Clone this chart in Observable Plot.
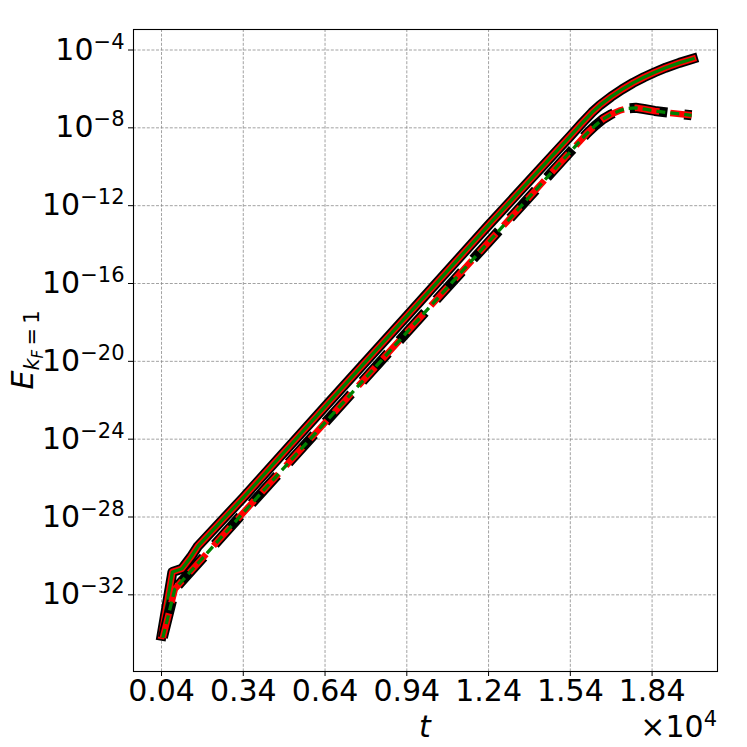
<!DOCTYPE html>
<html><head><meta charset="utf-8">
<script src="https://cdn.jsdelivr.net/npm/d3@7"></script>
<script src="https://cdn.jsdelivr.net/npm/@observablehq/plot@0.6"></script>
<style>html,body{margin:0;padding:0;background:#fff} svg{display:block}</style>
</head><body><div id="chart"></div>
<script>
// t in units of 10^4
const tUpper = [0.04, 0.08, 0.115, 0.148, 0.174, 0.34, 0.64, 0.94, 1.24, 1.54, 1.58, 1.62, 1.65, 1.69, 1.73, 1.77, 1.81, 1.85, 1.89, 1.94, 1.99];
const eUpper = [7.9e-35, 1.5e-31, 2.2e-31, 8.9e-31, 3.2e-30, 1.0e-27, 4.7e-23, 2.1e-18, 1.0e-13, 3.8e-9, 1.58e-8, 6.3e-8, 1.51e-7, 4.0e-7, 9.5e-7, 2.04e-6, 3.98e-6, 7.2e-6, 1.23e-5, 2.19e-5, 3.55e-5];
const tLower = [0.045, 0.089, 0.34, 0.64, 0.94, 1.24, 1.54, 1.60, 1.63, 1.66, 1.69, 1.72, 1.75, 1.78, 1.81, 1.85, 1.90, 1.95, 1.985];
const eLower = [6.3e-35, 2.0e-32, 1.66e-28, 7.1e-24, 3.1e-19, 1.35e-14, 5.9e-10, 5.0e-9, 1.26e-8, 2.8e-8, 5.0e-8, 7.6e-8, 1.0e-7, 1.07e-7, 9.3e-8, 7.4e-8, 6.0e-8, 5.0e-8, 4.4e-8];
const xTicks = [0.04, 0.34, 0.64, 0.94, 1.24, 1.54, 1.84];
const xTickLabels = ["0.04", "0.34", "0.64", "0.94", "1.24", "1.54", "1.84"];
const yTicks = [1e-32, 1e-28, 1e-24, 1e-20, 1e-16, 1e-12, 1e-8, 1e-4];
const yTickExponents = ["\u221232", "\u221228", "\u221224", "\u221220", "\u221216", "\u221212", "\u22128", "\u22124"];

const upper = tUpper.map((t, i) => ({t, E: eUpper[i]}));
const lower = tLower.map((t, i) => ({t, E: eLower[i]}));

const gridStyle = {stroke: "#8a8a8a", strokeOpacity: 1, strokeWidth: 0.8, strokeDasharray: "3,1.6"};
const lineBase = {x: "t", y: "E", strokeLinejoin: "round"};

const chart = Plot.plot({
  width: 747, height: 747,
  marginLeft: 133, marginRight: 30, marginTop: 29, marginBottom: 76,
  style: {fontFamily: "DejaVu Sans", fontSize: "30px", color: "#000", background: "#fff"},
  x: {domain: [-0.0628, 2.080]},
  y: {type: "log", domain: [Math.pow(10, -35.94), Math.pow(10, -2.946)]},
  marks: [
    Plot.gridX(xTicks, gridStyle),
    Plot.gridY(yTicks, gridStyle),
    Plot.axisX(xTicks, {tickSize: 5, tickPadding: 3, label: null, fontSize: 30,
      tickFormat: d => xTickLabels[xTicks.indexOf(d)]}),
    Plot.axisY(yTicks, {tickSize: 5, tickPadding: 4, label: null, fontSize: 30,
      tickFormat: d => yTickExponents[yTicks.indexOf(d)]}),
    Plot.line(upper, {...lineBase, stroke: "black", strokeWidth: 10, strokeLinecap: "square"}),
    Plot.line(upper, {...lineBase, stroke: "red", strokeWidth: 6.5, strokeLinecap: "square"}),
    Plot.line(upper, {...lineBase, stroke: "green", strokeWidth: 3.3, strokeLinecap: "square"}),
    Plot.line(lower, {...lineBase, stroke: "black", strokeWidth: 10, strokeLinecap: "butt", strokeDasharray: "38,17"}),
    Plot.line(lower, {...lineBase, stroke: "red", strokeWidth: 6.5, strokeLinecap: "butt", strokeDasharray: "25,11"}),
    Plot.line(lower, {...lineBase, stroke: "green", strokeWidth: 3.3, strokeLinecap: "butt", strokeDasharray: "9,5"}),
    Plot.frame({stroke: "black", strokeWidth: 1.1})
  ]
});
document.getElementById("chart").appendChild(chart);

const svg = d3.select(chart);
// y tick labels as 10 with superscript exponent
svg.selectAll('g[aria-label="y-axis tick label"] text').each(function() {
  const s = this.textContent;
  const t = d3.select(this);
  t.text(null);
  t.append("tspan").text("10");
  t.append("tspan").attr("dy", -11).attr("font-size", 21).text(s);
});
// y label E_{k_F=1}
const yl = svg.append("text")
  .attr("transform", "translate(33,350) rotate(-90)")
  .attr("text-anchor", "middle")
  .attr("font-family", "DejaVu Sans").attr("font-size", 30).attr("fill", "#000");
yl.append("tspan").attr("font-style", "italic").text("E");
yl.append("tspan").attr("font-style", "italic").attr("font-size", 21).attr("dy", 6).text("k");
yl.append("tspan").attr("font-style", "italic").attr("font-size", 15).attr("dy", 4).text("F");
yl.append("tspan").attr("font-size", 21).attr("dy", -4).text("\u2009=\u20091");
// x label
svg.append("text").attr("x", 425).attr("y", 737).attr("text-anchor", "middle")
  .attr("font-family", "DejaVu Sans").attr("font-size", 30).attr("font-style", "italic").attr("fill", "#000").text("t");
// offset text
const off = svg.append("text").attr("x", 717).attr("y", 737).attr("text-anchor", "end")
  .attr("font-family", "DejaVu Sans").attr("font-size", 30).attr("fill", "#000");
off.append("tspan").text("\u00d710");
off.append("tspan").attr("dy", -11).attr("font-size", 21).text("4");
</script>
</body></html>
